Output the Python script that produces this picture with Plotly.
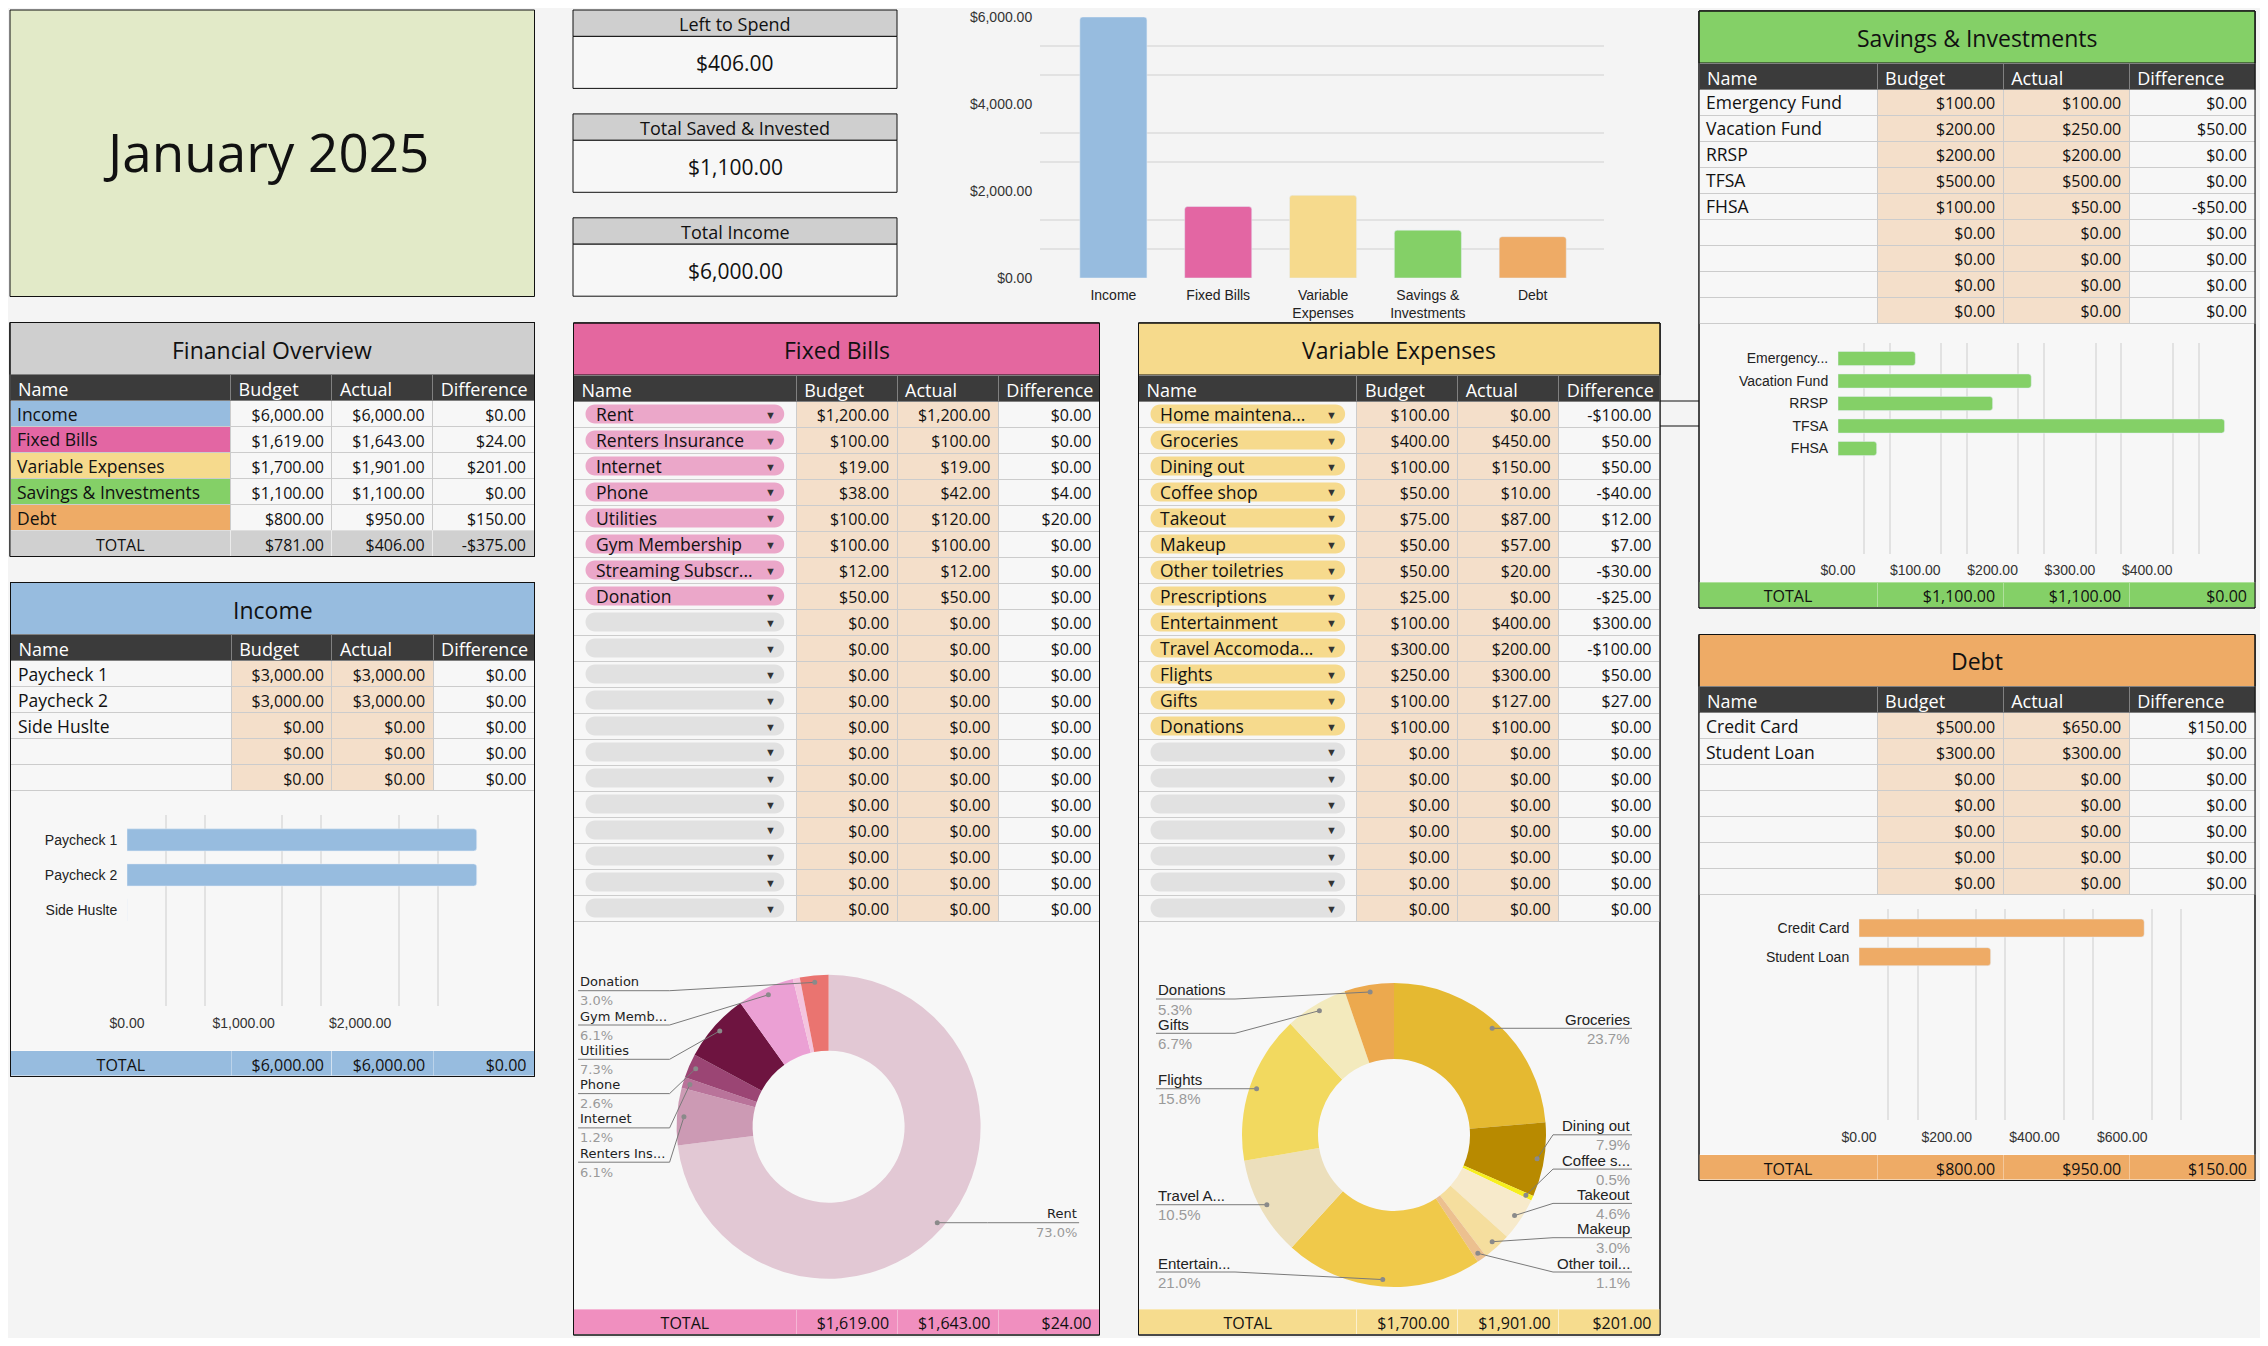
import math
import plotly.graph_objects as go

W, H = 2268, 1346
PAD = 8                      # browser body margin around the figure
FW, FH = W - 2 * PAD, H - 2 * PAD
FONT = "Open Sans"
CHART_FONT = "Liberation Sans"
PEACH = "#f4dfca"
CELL = "#f7f7f7"
HEAD = "#3b3b3b"
GRID = "#e2e2e2"

# ---------------- data ----------------
month_title = "January 2025"

overview_names = ["Income", "Fixed Bills", "Variable Expenses", "Savings & Investments", "Debt"]
overview_budget = [6000, 1619, 1700, 1100, 800]
overview_actual = [6000, 1643, 1901, 1100, 950]
overview_colors = ["#97bcdf", "#e366a3", "#f6da8d", "#84d067", "#eeab66"]
overview_bar_labels = ["Income", "Fixed Bills", "Variable<br>Expenses", "Savings &<br>Investments", "Debt"]

income_names = ["Paycheck 1", "Paycheck 2", "Side Huslte", "", ""]
income_budget = [3000, 3000, 0, 0, 0]
income_actual = [3000, 3000, 0, 0, 0]

fixed_names = ["Rent", "Renters Insurance", "Internet", "Phone", "Utilities", "Gym Membership",
               "Streaming Subscr...", "Donation", "", "", "", "", "", "", "", "", "", "", "", ""]
fixed_budget = [1200, 100, 19, 38, 100, 100, 12, 50, 0, 0, 0, 0, 0, 0, 0, 0, 0, 0, 0, 0]
fixed_actual = [1200, 100, 19, 42, 120, 100, 12, 50, 0, 0, 0, 0, 0, 0, 0, 0, 0, 0, 0, 0]
fixed_pie_labels = ["Rent", "Renters Ins...", "Internet", "Phone", "Utilities", "Gym Memb...", "", "Donation"]
fixed_pie_colors = ["#e2c8d4", "#cc9ab4", "#b9739a", "#9b4574", "#6e1440", "#eba0d4", "#f4c4de", "#ea7470"]

variable_names = ["Home maintena...", "Groceries", "Dining out", "Coffee shop", "Takeout", "Makeup",
                  "Other toiletries", "Prescriptions", "Entertainment", "Travel Accomoda...", "Flights",
                  "Gifts", "Donations", "", "", "", "", "", "", ""]
variable_budget = [100, 400, 100, 50, 75, 50, 50, 25, 100, 300, 250, 100, 100, 0, 0, 0, 0, 0, 0, 0]
variable_actual = [0, 450, 150, 10, 87, 57, 20, 0, 400, 200, 300, 127, 100, 0, 0, 0, 0, 0, 0, 0]
variable_pie_labels = ["", "Groceries", "Dining out", "Coffee s...", "Takeout", "Makeup", "Other toil...",
                       "", "Entertain...", "Travel A...", "Flights", "Gifts", "Donations"]
variable_pie_colors = ["#d9d9d9", "#e5b931", "#b88a00", "#f7ef1e", "#f7eacb", "#f5de9e", "#ecc08f",
                       "#cccccc", "#f0c94a", "#ecdfbc", "#f2d95f", "#f3eabd", "#eca94e"]

savings_names = ["Emergency Fund", "Vacation Fund", "RRSP", "TFSA", "FHSA", "", "", "", ""]
savings_budget = [100, 200, 200, 500, 100, 0, 0, 0, 0]
savings_actual = [100, 250, 200, 500, 50, 0, 0, 0, 0]
savings_bar_labels = ["Emergency...", "Vacation Fund", "RRSP", "TFSA", "FHSA"]

debt_names = ["Credit Card", "Student Loan", "", "", "", "", ""]
debt_budget = [500, 300, 0, 0, 0, 0, 0]
debt_actual = [650, 300, 0, 0, 0, 0, 0]

summary_titles = ["Left to Spend", "Total Saved & Invested", "Total Income"]

# ---------------- helpers ----------------
shapes, notes, traces, axes = [], [], [], {}


def fx(x):
    return (x - PAD) / FW


def fy(y):
    return 1 - (y - PAD) / FH


def money(v):
    s = "${:,.2f}".format(abs(v))
    return "-" + s if v < 0 else s


def box(x0, y0, x1, y1, fill, line="#111111", layer="below"):
    shapes.append(dict(type="rect", xref="paper", yref="paper", x0=fx(x0), x1=fx(x1), y0=fy(y1), y1=fy(y0),
                       fillcolor=fill, line=dict(color=line, width=1), layer=layer))


def label(x, y, s, size=16, color="#111111", xanchor="center", yanchor="middle", family=FONT):
    notes.append(dict(xref="paper", yref="paper", x=fx(x), y=fy(y), text=s, showarrow=False,
                      xanchor=xanchor, yanchor=yanchor, font=dict(family=family, size=size, color=color)))


def pill(x0, x1, yc, fill, h=19):
    w, r = x1 - x0, h / 2
    k = 0.5523 * r
    path = (f"M {r},{-r} L {w - r},{-r} C {w - r + k},{-r} {w},{-k} {w},0 "
            f"C {w},{k} {w - r + k},{r} {w - r},{r} L {r},{r} "
            f"C {r - k},{r} 0,{k} 0,0 C 0,{-k} {r - k},{-r} {r},{-r} Z")
    shapes.append(dict(type="path", xref="paper", yref="paper", xsizemode="pixel", ysizemode="pixel",
                       xanchor=fx(x0), yanchor=fy(yc), path=path, fillcolor=fill,
                       line=dict(width=0), layer="below"))


def thirds(step, upto):
    return [k * step / 3 for k in range(1, int(upto * 3 / step) + 1) if k % 3]


TITLE_H, ROW_H = 52, 26


def panel(x0, x1, top, title, color, colw, names, budget, actual, chart_h, total_color, totals=None,
          name_fill=CELL, value_fill=PEACH, chip_color=None):
    n = len(names)
    head = top + TITLE_H
    body = head + ROW_H * (n + 1)
    tot = body + chart_h
    box(x0, top, x1, tot + ROW_H, CELL)
    box(x0, top, x1, head, color)
    label((x0 + x1) / 2, top + TITLE_H / 2 + 1, title, 23)
    diff = [a - b for a, b in zip(actual, budget)]
    fill0 = "rgba(0,0,0,0)" if chip_color else name_fill
    traces.append(go.Table(
        domain=dict(x=[fx(x0), fx(x1)], y=[fy(body + 2), fy(head)]),
        columnwidth=colw,
        header=dict(values=["Name", "Budget", "Actual", "Difference"], fill_color=HEAD, align="left",
                    height=ROW_H, font=dict(family=FONT, size=18, color="#ffffff"),
                    line=dict(color="#808080", width=1)),
        cells=dict(values=[[""] * n, [money(v) for v in budget], [money(v) for v in actual],
                           [money(v) for v in diff]],
                   fill_color=[fill0, value_fill, value_fill, CELL], align=["left", "right", "right", "right"],
                   height=ROW_H, font=dict(family=FONT, size=16, color="#111111"),
                   line=dict(color="#cccccc", width=1))))
    # name column text (and dropdown chips) drawn on top of the table's first column
    nx1 = x0 + colw[0] * (x1 - x0) / sum(colw)
    for i, nm in enumerate(names):
        yc = head + ROW_H * (i + 1.5)
        if chip_color:
            pill(x0 + 12, nx1 - 12, yc, chip_color if nm else "#e1e1e1")
            if nm:
                label(x0 + 20, yc, nm, 17.5, xanchor="left")
            label(nx1 - 26, yc, "▼", 11, "#333333")
        elif nm:
            label(x0 + 5, yc, nm, 17.5, xanchor="left")
    if totals is None:
        totals = [sum(budget), sum(actual), sum(actual) - sum(budget)]
    traces.append(go.Table(
        domain=dict(x=[fx(x0), fx(x1)], y=[fy(tot + ROW_H), fy(tot)]),
        columnwidth=colw,
        header=dict(values=["TOTAL"] + [money(v) for v in totals], fill_color=total_color,
                    align=["center", "right", "right", "right"], height=ROW_H,
                    font=dict(family=FONT, size=16, color="#111111"),
                    line=dict(color="rgba(255,255,255,0.35)", width=1)),
        cells=dict(values=[[], [], [], []])))
    box(x0, top, x1, tot + ROW_H, "rgba(0,0,0,0)", layer="above")
    return body, tot


def hbar(ax, labels, values, color, xdom, ydom, xrange, yrange, ticks, step):
    traces.append(go.Bar(y=labels, x=values, orientation="h", width=0.63,
                         marker=dict(color=color, cornerradius=3), xaxis="x" + ax, yaxis="y" + ax,
                         hoverinfo="skip"))
    axes["xaxis" + ax] = dict(domain=[fx(xdom[0]), fx(xdom[1])], range=xrange, anchor="y" + ax,
                              tickvals=ticks, tickformat="$,.2f", showgrid=False, zeroline=False,
                              ticks="outside", ticklen=4, tickcolor="rgba(0,0,0,0)", automargin=False,
                              tickfont=dict(family=CHART_FONT, size=14, color="#333333"),
                              minor=dict(tickmode="array", tickvals=thirds(step, xrange[1]), showgrid=True,
                                         gridcolor=GRID, gridwidth=1.5, ticks=""), fixedrange=True)
    axes["yaxis" + ax] = dict(domain=[fy(ydom[1]), fy(ydom[0])], range=yrange, anchor="x" + ax,
                              type="category", categoryorder="array", categoryarray=labels,
                              showgrid=False, zeroline=False, ticks="outside", ticklen=6,
                              tickcolor="rgba(0,0,0,0)", automargin=False,
                              tickfont=dict(family=CHART_FONT, size=14, color="#222222"), fixedrange=True)


def donut(cx, cy, names, values, colors, short, dx_label, family, size):
    r = 152
    traces.append(go.Pie(labels=names, values=values, marker=dict(colors=colors, line=dict(width=0)),
                         hole=0.5, sort=False, direction="clockwise", rotation=0, textinfo="none",
                         hoverinfo="label+percent", showlegend=False,
                         domain=dict(x=[fx(cx - r), fx(cx + r)], y=[fy(cy + r), fy(cy - r)])))
    total = sum(values)
    items, cum = [], 0
    for v, s in zip(values, short):
        mid = (cum + v / 2) / total
        cum += v
        if v == 0 or not s:
            continue
        a = 2 * math.pi * mid
        items.append(dict(x=cx + 145 * math.sin(a), y=cy - 145 * math.cos(a), right=mid < 0.5,
                          text=s, pct=100 * v / total))
    for right in (False, True):
        grp = sorted([it for it in items if it["right"] == right], key=lambda it: it["y"])
        prev = -1e9
        for it in grp:
            it["ly"] = max(it["y"], prev + 34.3, cy - 136)
            prev = it["ly"]
        nxt = 1e9
        for it in reversed(grp):
            it["ly"] = min(it["ly"], nxt - 34.3, cy + 137)
            nxt = it["ly"]
    for it in items:
        sgn = 1 if it["right"] else -1
        lx, ex, ly = cx + sgn * dx_label, cx + sgn * 159, it["ly"]
        shapes.append(dict(type="path", xref="paper", yref="paper",
                           path=f"M {fx(lx)},{fy(ly)} L {fx(ex)},{fy(ly)} L {fx(it['x'])},{fy(it['y'])}",
                           line=dict(color="#7a7a7a", width=1), layer="above"))
        shapes.append(dict(type="circle", xref="paper", yref="paper", xsizemode="pixel", ysizemode="pixel",
                           xanchor=fx(it["x"]), yanchor=fy(it["y"]), x0=-2.5, x1=2.5, y0=-2.5, y1=2.5,
                           fillcolor="#8a8a8a", line=dict(width=0), layer="above"))
        anchor = "right" if it["right"] else "left"
        label(lx, ly - 9, it["text"], size, "#222222", anchor, "middle", family)
        label(lx, ly + 10, f"{it['pct']:.1f}%", size, "#9a9a9a", anchor, "middle", family)


# ---------------- title + summary boxes ----------------
box(10, 10, 534.5, 296.5, "#e2eac8")
label(266, 152, month_title, 53)

left_to_spend = overview_actual[0] - sum(overview_actual[1:])
summary_values = [left_to_spend, overview_actual[3], overview_actual[0]]
for i, (t, v) in enumerate(zip(summary_titles, summary_values)):
    top = 10 + i * 103.9
    box(573, top, 897, top + 26.4, "#cfcfcf")
    box(573, top + 26.4, 897, top + 78.4, CELL)
    label(735, top + 14, t, 18)
    label(735, top + 53, money(v), 21)

# ---------------- panels ----------------
overview_totals = [overview_budget[0] - sum(overview_budget[1:]), left_to_spend]
overview_totals.append(overview_totals[1] - overview_totals[0])
panel(10, 534.5, 322.5, "Financial Overview", "#cfcfcf", [220.7, 101.4, 100.7, 101.4],
      overview_names, overview_budget, overview_actual, 0, "#d0d0d0", totals=overview_totals,
      name_fill=overview_colors, value_fill=CELL)

panel(10.5, 534.5, 582.5, "Income", "#97bcdf", [220.7, 100.7, 101.1, 101.4],
      income_names, income_budget, income_actual, 260, "#97bcdf")

panel(573.5, 1099.5, 323, "Fixed Bills", "#e4679f", [222.8, 100.9, 101.3, 101.2],
      fixed_names, fixed_budget, fixed_actual, 388, "#f08fbf", chip_color="#eba7c9")

panel(1138.5, 1660, 323, "Variable Expenses", "#f6da8c", [218.7, 100.9, 101.2, 100.9],
      variable_names, variable_budget, variable_actual, 388, "#f6dc8e", chip_color="#f6da8d")

panel(1699, 2255, 11, "Savings & Investments", "#84d067", [178, 126, 126, 125.7],
      savings_names, savings_budget, savings_actual, 259, "#84d067")

panel(1699, 2255, 634.5, "Debt", "#eeab66", [178, 126, 126, 125.7],
      debt_names, debt_budget, debt_actual, 260, "#eeab66")

# stray connector lines between panels
for yy in (401, 426):
    shapes.append(dict(type="line", xref="paper", yref="paper", x0=fx(1660), x1=fx(1699), y0=fy(yy), y1=fy(yy),
                       line=dict(color="#111111", width=1)))

# ---------------- charts ----------------
traces.append(go.Bar(x=overview_bar_labels, y=overview_actual, width=0.64,
                     marker=dict(color=overview_colors, cornerradius=3), xaxis="x", yaxis="y", hoverinfo="skip"))
axes["xaxis"] = dict(domain=[fx(1040), fx(1604)], range=[-0.7, 4.68], anchor="y", showgrid=False,
                     zeroline=False, ticks="outside", ticklen=4, tickcolor="rgba(0,0,0,0)", automargin=False,
                     tickfont=dict(family=CHART_FONT, size=14, color="#222222"), fixedrange=True)
axes["yaxis"] = dict(domain=[fy(278), fy(17)], range=[0, 6000], anchor="x", tickvals=[0, 2000, 4000, 6000],
                     tickformat="$,.2f", showgrid=False, zeroline=False, ticks="outside", ticklen=4,
                     tickcolor="rgba(0,0,0,0)", automargin=False,
                     tickfont=dict(family=CHART_FONT, size=14, color="#333333"),
                     minor=dict(tickmode="array", tickvals=thirds(2000, 6000), showgrid=True, gridcolor=GRID,
                                gridwidth=1.5, ticks=""), fixedrange=True)

income_labels = [n for n in income_names if n]
hbar("2", income_labels, income_actual[:len(income_labels)], "#97bcdf", (127, 500), (815, 1006),
     [0, 3200], [4.74, -0.71], [0, 1000, 2000], 1000)

savings_n = len(savings_bar_labels)
hbar("3", savings_bar_labels, savings_actual[:savings_n], "#84d067", (1838, 2240), (343, 553.6),
     [0, 520], [8.67, -0.69], [0, 100, 200, 300, 400], 100)

debt_labels = [n for n in debt_names if n]
hbar("4", debt_labels, debt_actual[:len(debt_labels)], "#eeab66", (1859, 2210), (908.6, 1120),
     [0, 800], [6.71, -0.68], [0, 200, 400, 600], 200)

fn = len(fixed_pie_labels)
donut(828.6, 1126.7, fixed_names[:fn], fixed_actual[:fn], fixed_pie_colors, fixed_pie_labels, 250.5,
      "DejaVu Sans", 13)
vn = len(variable_pie_labels)
donut(1394, 1135, variable_names[:vn], variable_actual[:vn], variable_pie_colors, variable_pie_labels, 238,
      CHART_FONT, 15)

fig = go.Figure(data=traces)
fig.update_layout(width=FW, height=FH, margin=dict(l=0, r=0, t=0, b=0, pad=0, autoexpand=False),
                  paper_bgcolor="#f4f4f4", plot_bgcolor="rgba(0,0,0,0)", showlegend=False, bargap=0.36,
                  shapes=shapes, annotations=notes, **axes)
fig.write_html("out.html")
